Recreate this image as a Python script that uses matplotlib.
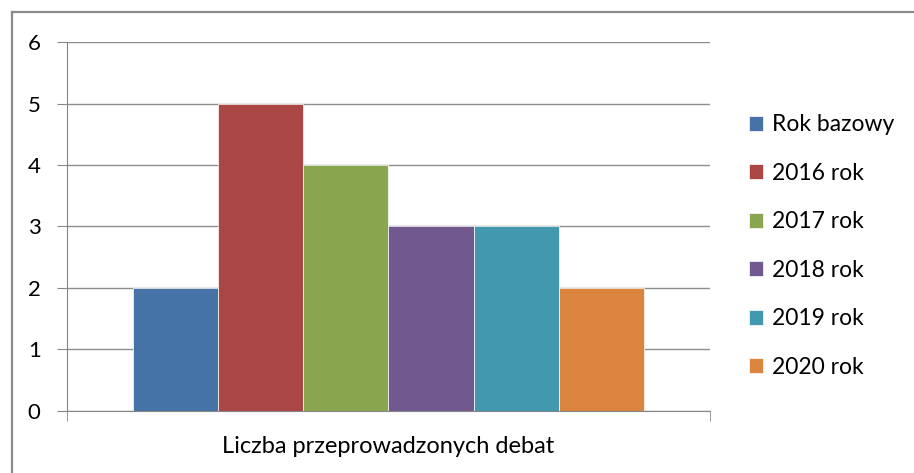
import matplotlib.pyplot as plt
from matplotlib.lines import Line2D
import numpy as np

plt.rcParams['font.family'] = ['Lato', 'DejaVu Sans']

series = ['Rok bazowy', '2016 rok', '2017 rok', '2018 rok', '2019 rok', '2020 rok']
values = [2, 5, 4, 3, 3, 2]
colors = ['#4572A7', '#AA4643', '#89A54E', '#71588F', '#4198AF', '#DB843D']
category = 'Liczba przeprowadzonych debat'

fig = plt.figure(figsize=(9.14, 4.73), dpi=100)
ax = fig.add_axes([0.0733, 0.1311, 0.7035, 0.7801])

# bars of one category, side by side
group = 0.796
w = group / len(values)
for i, (name, v, c) in enumerate(zip(series, values, colors)):
    ax.bar((i - (len(values) - 1) / 2) * w, v, width=w, color=c, label=name,
           edgecolor='white', linewidth=0.5)

ax.set_xlim(-0.5, 0.5)
ax.set_ylim(0, 6)
ax.set_yticks(range(0, 7))
ax.set_xticks([0])
ax.set_xticklabels([category], fontsize=17)
ax.set_xticks([-0.5, 0.5], minor=True)
ax.tick_params(axis='x', which='major', length=0, pad=18)
ax.tick_params(axis='x', which='minor', length=7, color='#868686', direction='out')
ax.tick_params(axis='y', length=7, color='#868686', labelsize=16, pad=12)

ax.yaxis.grid(True, color='#8c8c8c', linewidth=1)
ax.set_axisbelow(True)
for s in ['top', 'right']:
    ax.spines[s].set_visible(False)
for s in ['left', 'bottom']:
    ax.spines[s].set_color('#868686')

leg = fig.legend(loc='center left', bbox_to_anchor=(0.797, 0.48), frameon=False,
                 fontsize=16.5, handlelength=0.62, handleheight=0.62,
                 handletextpad=0.4, labelspacing=1.2)

# chart border (top and left)
fig.add_artist(Line2D([0.0131, 1.0], [0.9746, 0.9746], color='#8a8a8a', linewidth=1.6))
fig.add_artist(Line2D([0.0131, 0.0131], [0.0, 0.9746], color='#8a8a8a', linewidth=1.6))

fig.savefig('out.png', dpi=100)
